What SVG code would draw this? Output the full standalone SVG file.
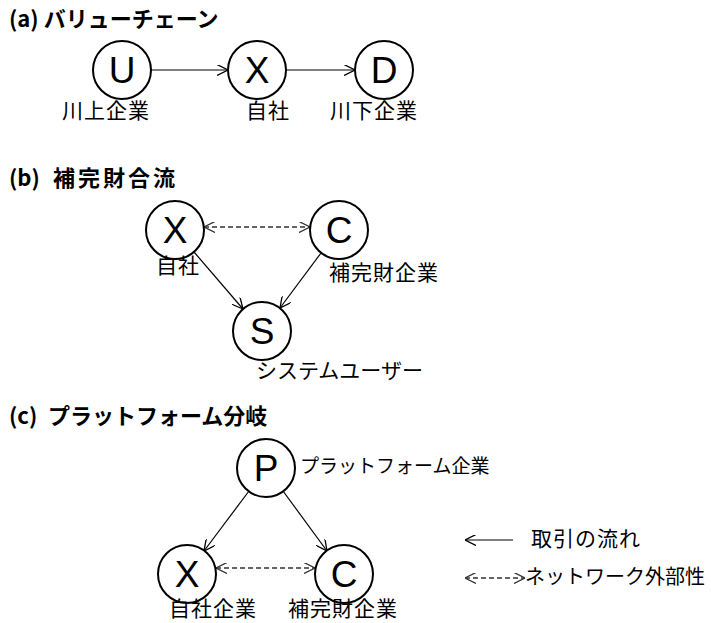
<svg xmlns="http://www.w3.org/2000/svg" width="711" height="623" viewBox="0 0 711 623">
<style>
.title{font-family:"Noto Sans CJK JP","Liberation Sans",sans-serif;font-weight:bold;font-size:22px;fill:#000}
.node circle{fill:#fff;stroke:#000;stroke-width:2}
.letter{font-family:"Liberation Sans","Noto Sans",sans-serif;font-size:37px;text-anchor:middle;fill:#000}
.lab{font-family:"Noto Sans CJK JP",sans-serif;font-size:21px;letter-spacing:1px;fill:#000}
.flow{stroke:#000;stroke-width:1.2;fill:none}
.ext{stroke:#333;stroke-width:1.3;stroke-dasharray:5 3;fill:none}
</style>
<defs>
<marker id="ah" viewBox="0 0 10 10" refX="10" refY="5" markerWidth="11" markerHeight="11" markerUnits="userSpaceOnUse" orient="auto-start-reverse">
<path d="M0,0 L10,5 L0,10" fill="none" stroke="#000" stroke-width="1.2"/>
</marker>
<marker id="ahg" viewBox="0 0 10 10" refX="10" refY="5" markerWidth="11" markerHeight="11" markerUnits="userSpaceOnUse" orient="auto-start-reverse">
<path d="M0,0 L10,5 L0,10" fill="none" stroke="#333" stroke-width="1.2"/>
</marker>
</defs>

<text class="title" x="9" y="27">(a) バリューチェーン</text>
<text class="title" x="9" y="186">(b)<tspan x="53" letter-spacing="3">補完財合流</tspan></text>
<text class="title" x="9" y="424">(c)<tspan x="48">プラットフォーム分岐</tspan></text>

<g id="connectors">
<line class="flow" x1="151" y1="70" x2="228" y2="70" marker-end="url(#ah)"/>
<line class="flow" x1="286" y1="70" x2="355" y2="70" marker-end="url(#ah)"/>
<line class="ext" x1="204" y1="227" x2="310" y2="227" marker-start="url(#ahg)" marker-end="url(#ahg)"/>
<line class="flow" x1="194" y1="252" x2="243" y2="309" marker-end="url(#ah)"/>
<line class="flow" x1="321" y1="253" x2="280" y2="308" marker-end="url(#ah)"/>
<line class="flow" x1="249" y1="491" x2="204" y2="551" marker-end="url(#ah)"/>
<line class="flow" x1="283" y1="491" x2="327" y2="551" marker-end="url(#ah)"/>
<line class="ext" x1="216" y1="568" x2="315" y2="568" marker-start="url(#ahg)" marker-end="url(#ahg)"/>
</g>

<g id="a-U" class="node"><circle cx="122" cy="70" r="29"/><text class="letter" x="122" y="83">U</text><text class="lab" x="62" y="118">川上企業</text></g>
<g id="a-X" class="node"><circle cx="257" cy="70" r="29"/><text class="letter" x="257" y="83">X</text><text class="lab" x="246" y="118">自社</text></g>
<g id="a-D" class="node"><circle cx="384" cy="70" r="29"/><text class="letter" x="384" y="83">D</text><text class="lab" x="330" y="118">川下企業</text></g>

<g id="b-X" class="node"><circle cx="175" cy="230" r="29"/><text class="letter" x="175" y="243">X</text><text class="lab" x="156" y="273">自社</text></g>
<g id="b-C" class="node"><circle cx="339" cy="230" r="29"/><text class="letter" x="339" y="243">C</text><text class="lab" x="329" y="280">補完財企業</text></g>
<g id="b-S" class="node"><circle cx="262" cy="331" r="29"/><text class="letter" x="262" y="344">S</text><text class="lab" x="256" y="378" style="letter-spacing:0">システムユーザー</text></g>

<g id="c-P" class="node"><circle cx="266" cy="468" r="29"/><text class="letter" x="266" y="481">P</text><text class="lab" x="300" y="473" style="font-size:19px;letter-spacing:0">プラットフォーム企業</text></g>
<g id="c-X" class="node"><circle cx="187" cy="574" r="29"/><text class="letter" x="187" y="587">X</text><text class="lab" x="169" y="616">自社企業</text></g>
<g id="c-C" class="node"><circle cx="344" cy="574" r="29"/><text class="letter" x="344" y="587">C</text><text class="lab" x="288" y="616">補完財企業</text></g>

<g id="legend">
<line class="flow" x1="465" y1="540" x2="513" y2="540" marker-start="url(#ah)"/>
<text class="lab" x="531" y="546">取引の流れ</text>
<line class="ext" x1="465" y1="578" x2="525" y2="578" marker-start="url(#ahg)" marker-end="url(#ahg)"/>
<text class="lab" x="525" y="584" style="font-size:20px;letter-spacing:0">ネットワーク外部性</text>
</g>
</svg>
